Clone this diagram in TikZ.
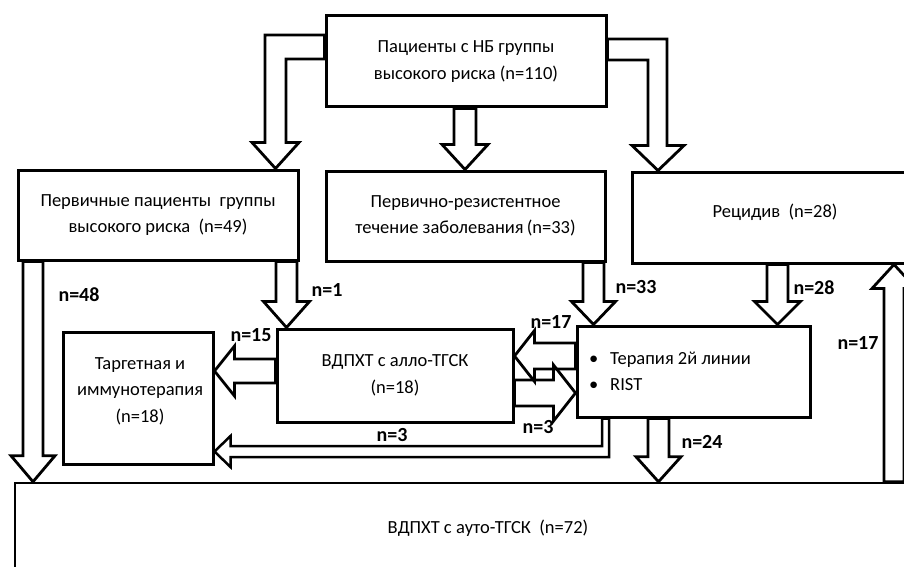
\documentclass[tikz,border=0pt]{standalone}
\usepackage{fontspec}
\setmainfont{Carlito}
\usetikzlibrary{calc}
\tikzset{
  box/.style={draw, line width=3pt, rectangle, inner sep=0pt, align=center,
    font=\fontsize{18.5}{26.5}\selectfont},
  boxtext/.style={inner sep=0pt, align=center, font=\fontsize{18.5}{26.5}\selectfont},
  blk/.style={draw, line width=2.8pt, line join=miter},
  thinblk/.style={draw, line width=2.5pt, line join=miter},
  lbl/.style={font=\fontsize{20}{24}\selectfont\bfseries, inner sep=0pt},
}
% block arrows: #1 centre (px), #2 start anchor, #3 tip anchor, #4 half shaft, #5 half head, #6 head length
\newcommand\arrdn[6]{\draw[blk] let \p1=(#2), \p2=(#3) in
  (#1pt-#4pt,\y1) -- (#1pt-#4pt,\y2+#6pt) -- (#1pt-#5pt,\y2+#6pt) -- (#1pt,\y2)
  -- (#1pt+#5pt,\y2+#6pt) -- (#1pt+#4pt,\y2+#6pt) -- (#1pt+#4pt,\y1) -- cycle;}
\newcommand\arrup[6]{\draw[blk] let \p1=(#2), \p2=(#3) in
  (#1pt-#4pt,\y1) -- (#1pt-#4pt,\y2-#6pt) -- (#1pt-#5pt,\y2-#6pt) -- (#1pt,\y2)
  -- (#1pt+#5pt,\y2-#6pt) -- (#1pt+#4pt,\y2-#6pt) -- (#1pt+#4pt,\y1) -- cycle;}
\newcommand\arrlf[6]{\draw[blk] let \p1=(#2), \p2=(#3) in
  (\x1,-#1pt+#4pt) -- (\x2+#6pt,-#1pt+#4pt) -- (\x2+#6pt,-#1pt+#5pt) -- (\x2,-#1pt)
  -- (\x2+#6pt,-#1pt-#5pt) -- (\x2+#6pt,-#1pt-#4pt) -- (\x1,-#1pt-#4pt) -- cycle;}
\newcommand\arrrt[6]{\draw[blk] let \p1=(#2), \p2=(#3) in
  (\x1,-#1pt+#4pt) -- (\x2-#6pt,-#1pt+#4pt) -- (\x2-#6pt,-#1pt+#5pt) -- (\x2,-#1pt)
  -- (\x2-#6pt,-#1pt-#5pt) -- (\x2-#6pt,-#1pt-#4pt) -- (\x1,-#1pt-#4pt) -- cycle;}
\begin{document}
\begin{tikzpicture}[x=1pt,y=-1pt]
\clip (0,0) rectangle (904,567);
\fill[white] (0,0) rectangle (904,567);

% boxes
\node[box, minimum width=280pt, minimum height=91pt] (top) at (466,61.5)
  {Пациенты с НБ группы\\высокого риска (n=110)};
\node[box, minimum width=280pt, minimum height=90pt] (prim) at (158,215)
  {Первичные пациенты\ \ группы\\высокого риска\ \ (n=49)};
\node[box, minimum width=279pt, minimum height=90pt] (res) at (465.5,216)
  {Первично-резистентное\\течение заболевания\,(n=33)};
\node[box, minimum width=286pt, minimum height=91pt] (rec) at (775,217.5) {};
\node[boxtext] (rectxt) at (775,212) {Рецидив\ \ (n=28)};
\node[box, minimum width=236pt, minimum height=93pt] (allo) at (395,375.5)
  {ВДПХТ с алло-ТГСК\\(n=18)};
\node[box, minimum width=150pt, minimum height=132pt] (targ) at (138,398) {};
\node[boxtext] (targtxt) at (140,391) {Таргетная и\\иммунотерапия\\(n=18)};
\node[box, minimum width=233pt, minimum height=91pt] (rist) at (693.5,371.5) {};
\node[boxtext, anchor=west, align=left] (risttxt) at (589,371.5)
  {\makebox[21pt][l]{•}Терапия 2й линии\\\makebox[21pt][l]{•}RIST};
\node[box, line width=2.5pt, minimum width=946pt, minimum height=90pt] (auto) at (488,528)
  {ВДПХТ с ауто-ТГСК\ \ (n=72)};

% bent arrows from the top box
\draw[blk] let \p1=(top.west), \p2=(prim.north) in
  (\x1,-35pt) -- (265pt,-35pt) -- (265pt,\y2+26pt) -- (252pt,\y2+26pt) -- (275.5pt,\y2)
  -- (299pt,\y2+26pt) -- (286pt,\y2+26pt) -- (286pt,-59pt) -- (\x1,-59pt) -- cycle;
\draw[blk] let \p1=(top.east), \p2=(rec.north) in
  (\x1,-39pt) -- (667pt,-39pt) -- (667pt,\y2+25pt) -- (684pt,\y2+25pt) -- (658pt,\y2)
  -- (632pt,\y2+25pt) -- (648pt,\y2+25pt) -- (648pt,-60pt) -- (\x1,-60pt) -- cycle;

% straight arrows
\arrdn{465}{top.south}{res.north}{11}{23}{25}
\arrdn{33}{prim.south}{auto.north}{10}{22}{26}
\arrdn{286.5}{prim.south}{allo.north}{10.5}{23}{26}
\arrdn{593.5}{res.south}{rist.north}{10.5}{22}{23}
\arrdn{777.5}{rec.south}{rist.north}{10.5}{23}{23}
\arrdn{658.5}{rist.south}{auto.north}{10.5}{22.5}{25}
\arrup{894}{auto.north}{rec.south}{10}{22}{24}
\arrlf{371}{allo.west}{targ.east}{12}{25}{20}
\arrlf{356}{rist.west}{allo.east}{13}{25.5}{20}
\arrrt{393}{allo.east}{rist.west}{13}{28}{22}

% thin bent arrow from RIST to targeted therapy
\draw[thinblk] let \p1=(rist.south), \p2=(targ.east) in
  (609pt,\y1) -- (609pt,-457pt) -- (\x2+16pt,-457pt) -- (\x2+16pt,-467pt) -- (\x2,-451.5pt)
  -- (\x2+16pt,-436pt) -- (\x2+16pt,-446pt) -- (602pt,-446pt) -- (602pt,\y1) -- cycle;

% labels
\node[lbl] (l48) at (79,295) {n=48};
\node[lbl] (l1) at (327,290) {n=1};
\node[lbl] (l33) at (636,287) {n=33};
\node[lbl] (l28) at (814,288) {n=28};
\node[lbl] (l17r) at (858,343) {n=17};
\node[lbl] (l15) at (251,335) {n=15};
\node[lbl] (l17m) at (551,322) {n=17};
\node[lbl] (l3m) at (538,427) {n=3};
\node[lbl] (l3b) at (392,435) {n=3};
\node[lbl] (l24) at (702,442) {n=24};
\end{tikzpicture}
\end{document}
